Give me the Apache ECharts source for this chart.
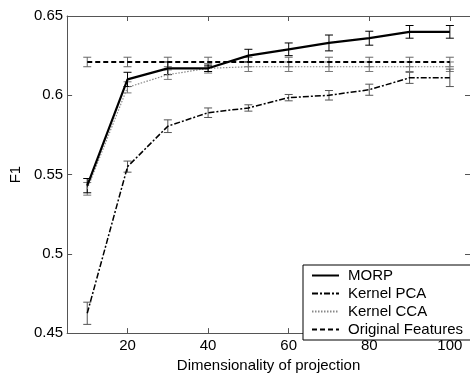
<!DOCTYPE html>
<html>
<head>
<meta charset="utf-8">
<script src="https://cdn.jsdelivr.net/npm/echarts@6/dist/echarts.min.js"></script>
<style>
  html, body { margin: 0; padding: 0; background: #fff; }
  #main { width: 470px; height: 378px; }
</style>
</head>
<body>
<div id="main"></div>
<script>
// dimensionality of projection
var dims = [10, 20, 30, 40, 50, 60, 70, 80, 90, 100];

var morp    = [0.543, 0.610, 0.617, 0.617, 0.625, 0.629, 0.633, 0.636, 0.640, 0.640];
var morpErr = [0.0045, 0.0045, 0.004, 0.002, 0.004, 0.004, 0.005, 0.0044, 0.004, 0.004];

var kpca    = [0.4625, 0.555, 0.5805, 0.589, 0.592, 0.5985, 0.600, 0.6035, 0.611, 0.611];
var kpcaErr = [0.007, 0.0035, 0.004, 0.003, 0.002, 0.002, 0.003, 0.0035, 0.0035, 0.0055];

var kcca    = [0.541, 0.605, 0.613, 0.617, 0.618, 0.618, 0.618, 0.618, 0.618, 0.618];
var kccaErr = [0.004, 0.0035, 0.003, 0.003, 0.003, 0.003, 0.003, 0.003, 0.003, 0.003];

var orig    = [0.621, 0.621, 0.621, 0.621, 0.621, 0.621, 0.621, 0.621, 0.621, 0.621];
var origErr = [0.003, 0.003, 0.003, 0.003, 0.003, 0.003, 0.003, 0.003, 0.003, 0.003];

var xTicks = [20, 40, 60, 80, 100];
var yTicks = [0.45, 0.5, 0.55, 0.6, 0.65];

var font = 'Liberation Sans, Arial, sans-serif';

function pairs(ys) {
    return dims.map(function (x, i) { return [x, ys[i]]; });
}

function errData(ys, es) {
    return dims.map(function (x, i) { return [x, ys[i] - es[i], ys[i] + es[i]]; });
}

function errSeries(ys, es, color) {
    return {
        type: 'custom',
        data: errData(ys, es),
        silent: true,
        z: 1,
        renderItem: function (params, api) {
            var lo = api.coord([api.value(0), api.value(1)]);
            var hi = api.coord([api.value(0), api.value(2)]);
            var w = 4;
            var st = { stroke: color, lineWidth: 1 };
            return {
                type: 'group',
                children: [
                    { type: 'line', shape: { x1: lo[0], y1: lo[1], x2: hi[0], y2: hi[1] }, style: st },
                    { type: 'line', shape: { x1: lo[0] - w, y1: lo[1], x2: lo[0] + w, y2: lo[1] }, style: st },
                    { type: 'line', shape: { x1: hi[0] - w, y1: hi[1], x2: hi[0] + w, y2: hi[1] }, style: st }
                ]
            };
        }
    };
}

function lineSeries(name, ys, color, width, type) {
    return {
        name: name,
        type: 'line',
        data: pairs(ys),
        symbol: 'none',
        z: 2,
        lineStyle: { color: color, width: width, type: type },
        itemStyle: { color: color }
    };
}

var axisLineStyle = { color: '#555', width: 1 };

var option = {
    animation: false,
    backgroundColor: '#fff',
    grid: { left: 61, top: 16, width: 413, height: 326 },
    legend: {
        orient: 'vertical',
        left: 303,
        top: 265,
        data: ['MORP', 'Kernel PCA', 'Kernel CCA', 'Original Features'],
        itemWidth: 27,
        itemHeight: 14,
        itemGap: 3,
        padding: [3, 10, 3, 8],
        borderColor: '#000',
        borderWidth: 1,
        backgroundColor: '#fff',
        itemStyle: { opacity: 0 },
        textStyle: { fontFamily: font, fontSize: 15, color: '#000', padding: [0, 0, 0, 4] }
    },
    xAxis: [{
        type: 'value',
        min: 5,
        max: 105,
        name: 'Dimensionality of projection',
        nameLocation: 'middle',
        nameGap: 22,
        nameTextStyle: { fontFamily: font, fontSize: 15, color: '#000' },
        axisLine: { show: true, lineStyle: axisLineStyle },
        axisTick: { show: true, inside: true, length: 5, lineStyle: axisLineStyle, customValues: xTicks },
        axisLabel: { fontFamily: font, fontSize: 15, color: '#000', margin: 5, customValues: xTicks },
        splitLine: { show: false }
    }, {
        type: 'value',
        position: 'top',
        min: 5,
        max: 105,
        axisLine: { show: true, lineStyle: axisLineStyle },
        axisTick: { show: true, inside: true, length: 5, lineStyle: axisLineStyle, customValues: xTicks },
        axisLabel: { show: false },
        splitLine: { show: false }
    }],
    yAxis: [{
        type: 'value',
        min: 0.45,
        max: 0.65,
        name: 'F1',
        nameLocation: 'middle',
        nameGap: 42,
        nameTextStyle: { fontFamily: font, fontSize: 15, color: '#000' },
        axisLine: { show: true, lineStyle: axisLineStyle },
        axisTick: { show: true, inside: true, length: 5, lineStyle: axisLineStyle, customValues: yTicks },
        axisLabel: {
            fontFamily: font, fontSize: 15, color: '#000', margin: 4, customValues: yTicks,
            formatter: function (v) { return String(+v.toFixed(2)); }
        },
        splitLine: { show: false }
    }, {
        type: 'value',
        position: 'right',
        min: 0.45,
        max: 0.65,
        axisLine: { show: true, lineStyle: axisLineStyle },
        axisTick: { show: true, inside: true, length: 5, lineStyle: axisLineStyle, customValues: yTicks },
        axisLabel: { show: false },
        splitLine: { show: false }
    }],
    series: [
        errSeries(orig, origErr, '#666'),
        errSeries(kcca, kccaErr, '#777'),
        errSeries(kpca, kpcaErr, '#555'),
        errSeries(morp, morpErr, '#000'),
        lineSeries('Kernel CCA', kcca, '#888', 1.2, [1.5, 1.5]),
        lineSeries('Kernel PCA', kpca, '#000', 1.5, [6, 2, 2, 2]),
        lineSeries('Original Features', orig, '#000', 1.8, [5, 3]),
        lineSeries('MORP', morp, '#000', 2.2, 'solid')
    ]
};

var myChart = echarts.init(document.getElementById('main'), null, { renderer: 'canvas' });
myChart.setOption(option);
</script>
</body>
</html>
